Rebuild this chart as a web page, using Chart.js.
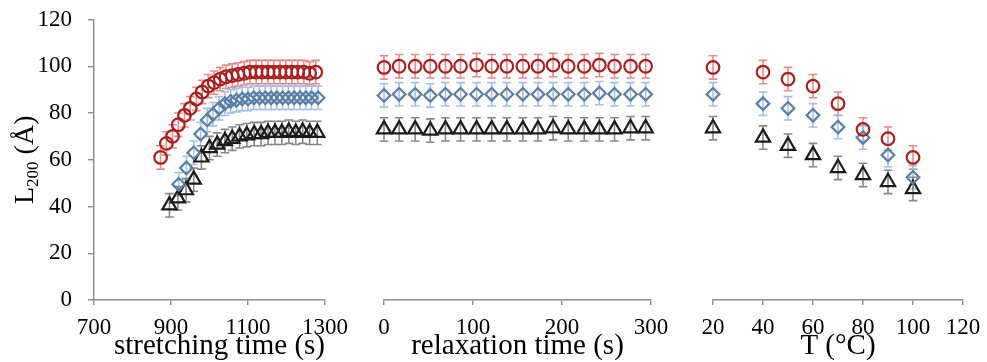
<!DOCTYPE html>
<html>
<head>
<meta charset="utf-8">
<script src="https://cdn.jsdelivr.net/npm/chart.js@4.4.1/dist/chart.umd.min.js"></script>
<style>
  html, body { margin: 0; padding: 0; background: #ffffff; }
  #wrap { position: relative; width: 987px; height: 362px; }
  #wrap canvas { position: absolute; left: 0; top: 0; }
</style>
</head>
<body>
<div id="wrap">
  <canvas id="c1" width="987" height="362"></canvas>
  <canvas id="c2" width="987" height="362"></canvas>
  <canvas id="c3" width="987" height="362"></canvas>
</div>
<script>
// ---- stretching stage ----
const stretchTimeA = [873, 888, 904, 919, 935, 950, 966, 981, 997, 1012, 1028, 1043, 1059, 1074, 1090, 1105, 1121, 1136, 1152, 1167, 1183, 1198, 1214, 1229, 1245, 1260, 1276];
const stretchA     = [61, 67, 70, 75, 79, 82, 86, 89, 91.5, 93, 94.5, 95.5, 96, 96.5, 97, 97.5, 97.5, 97.5, 97.5, 97.5, 97.5, 97.5, 97.5, 97.5, 97.5, 97, 97.5];
const stretchTimeB = [920, 940, 959, 977, 994, 1009, 1025, 1040, 1055, 1070, 1085, 1100, 1115, 1130, 1145, 1160, 1175, 1190, 1205, 1220, 1235, 1250, 1265, 1282];
const stretchB     = [49.5, 56.5, 63, 71, 77, 79.5, 82, 84, 85, 85.5, 86, 86, 86.5, 86.5, 86.5, 86.5, 86.5, 86.5, 86.5, 86.5, 86.5, 86.5, 86.5, 86.5];
const stretchTimeC = [896, 918, 939, 959, 979, 1000, 1020, 1040, 1059, 1078, 1097, 1116, 1134, 1152, 1170, 1188, 1206, 1224, 1242, 1260, 1280];
const stretchC     = [40.5, 43.5, 47, 51.5, 61, 65, 66.5, 68, 69, 70, 70.5, 71, 71, 71.5, 71.5, 71.5, 72, 71.5, 72, 71.5, 71.5];

// ---- relaxation stage ----
const relaxTime = [0, 17, 35, 52, 69, 86, 104, 121, 138, 156, 173, 190, 207, 225, 242, 259, 277, 294];
const relaxA = [99.5, 100, 100, 100, 100, 100, 100.5, 100, 100, 100, 100, 100.5, 100, 100, 100.5, 100, 100, 100];
const relaxB = [87.5, 88, 88, 87.5, 88, 88, 88, 88, 88, 88, 88, 88, 88, 88, 88.5, 88, 88, 88];
const relaxC = [73, 73, 73, 72.5, 73, 73, 73, 73, 73, 73, 73, 73.5, 73, 73, 73, 73, 73.5, 73.5];

// ---- heating stage ----
const temps = [20, 40, 50, 60, 70, 80, 90, 100];
const heatA = [99.5, 97.5, 94.5, 91.5, 84, 73, 69, 61];
const heatB = [88, 84, 82, 79, 74, 69.5, 62, 52.5];
const heatC = [73.5, 69.5, 66, 62, 56.5, 53.5, 50.5, 47.5];

// error bar half-length (Å)
const errA = 5, errB = 5, errC = 5;

// tick labels
const yTicks = [0, 20, 40, 60, 80, 100, 120];
const xTicksStretch = [700, 900, 1100, 1300];
const xTicksRelax = [0, 100, 200, 300];
const xTicksTemp = [20, 40, 60, 80, 100, 120];

const SERIF = '"Liberation Serif", "Times New Roman", "DejaVu Serif", serif';
const AXIS_GRAY = '#8c8c8c';

const styleA = { pointStyle: 'circle',   pointRadius: 6.3, pointBorderColor: '#a8201f', errorColor: 'rgba(228,128,128,0.9)', errorBar: errA };
const styleB = { pointStyle: 'rectRot',  pointRadius: 6.3, pointBorderColor: '#5a7ea8', errorColor: 'rgba(160,190,226,0.95)', errorBar: errB };
const styleC = { pointStyle: 'triangle', pointRadius: 8.2, pointBorderColor: '#1b1b1b', errorColor: 'rgba(130,130,130,0.95)', errorBar: errC };

function series(xs, ys, style) {
  return Object.assign({
    data: xs.map((v, i) => ({ x: v, y: ys[i] })),
    showLine: false,
    pointBackgroundColor: 'rgba(0,0,0,0)',
    pointBorderWidth: 2.2,
    pointHoverRadius: 6,
    clip: false
  }, style);
}

// vertical error bars drawn beneath the hollow markers
const errorBars = {
  id: 'errorBars',
  beforeDatasetsDraw(chart) {
    const { ctx, scales: { x, y } } = chart;
    ctx.save();
    ctx.lineWidth = 1.6;
    chart.data.datasets.forEach(ds => {
      ctx.strokeStyle = ds.errorColor;
      ds.data.forEach(p => {
        const px = x.getPixelForValue(p.x);
        const top = y.getPixelForValue(p.y + ds.errorBar);
        const bot = y.getPixelForValue(p.y - ds.errorBar);
        ctx.beginPath();
        ctx.moveTo(px, top); ctx.lineTo(px, bot);
        ctx.moveTo(px - 4.3, top); ctx.lineTo(px + 4.3, top);
        ctx.moveTo(px - 4.3, bot); ctx.lineTo(px + 4.3, bot);
        ctx.stroke();
      });
    });
    ctx.restore();
  }
};

// rotated y-axis title with a subscript: L200 (Å)
const yTitle = {
  id: 'yTitle',
  afterDraw(chart) {
    const { ctx, chartArea } = chart;
    const main = '28px ' + SERIF, sub = '17px ' + SERIF;
    const parts = [['L', main, 0], ['200', sub, 5], [' (Å)', main, 0]];
    ctx.save();
    let total = 0;
    parts.forEach(p => { ctx.font = p[1]; total += ctx.measureText(p[0]).width; });
    ctx.translate(33, (chartArea.top + chartArea.bottom) / 2);
    ctx.rotate(-Math.PI / 2);
    ctx.fillStyle = '#000';
    ctx.textBaseline = 'alphabetic';
    ctx.textAlign = 'left';
    let cx = -total / 2;
    parts.forEach(p => {
      ctx.font = p[1];
      ctx.fillText(p[0], cx, p[2]);
      cx += ctx.measureText(p[0]).width;
    });
    ctx.restore();
  }
};

function xScale(min, max, ticks, title, align) {
  return {
    type: 'linear',
    min: min, max: max,
    afterBuildTicks: s => { s.ticks = ticks.map(v => ({ value: v })); },
    afterFit: s => { s.height = 62; s.paddingLeft = 0; s.paddingRight = 0; },
    border: { display: true, color: AXIS_GRAY, width: 1.4 },
    grid: { drawOnChartArea: false, drawTicks: true, tickLength: 5, color: AXIS_GRAY, lineWidth: 1.4 },
    ticks: { color: '#000', font: { family: SERIF, size: 23 }, padding: 9, maxRotation: 0, autoSkip: false,
             callback: v => String(v) },
    title: { display: true, text: title, color: '#000', align: align || 'center',
             font: { family: SERIF, size: 29, lineHeight: 1.1 }, padding: { top: 0, bottom: 0 } }
  };
}

function yScale(show) {
  return {
    type: 'linear',
    min: 0, max: 120,
    display: show,
    afterBuildTicks: s => { s.ticks = yTicks.map(v => ({ value: v })); },
    afterFit: s => {
      if (show) { s.width = 94; }
      s.paddingTop = 0; s.paddingBottom = 0;
    },
    border: { display: true, color: AXIS_GRAY, width: 1.4 },
    grid: { drawOnChartArea: false, drawTicks: true, tickLength: 6, color: AXIS_GRAY, lineWidth: 1.4 },
    ticks: { color: '#000', font: { family: SERIF, size: 23 }, padding: 16, callback: v => String(v) }
  };
}

function makeChart(id, datasets, x, y, padding, plugins) {
  return new Chart(document.getElementById(id), {
    type: 'scatter',
    data: { datasets: datasets },
    options: {
      responsive: false,
      animation: false,
      devicePixelRatio: 1,
      layout: { padding: padding },
      plugins: { legend: { display: false }, tooltip: { enabled: false } },
      scales: { x: x, y: y }
    },
    plugins: [errorBars].concat(plugins || [])
  });
}

makeChart('c1',
  [series(stretchTimeA, stretchA, styleA), series(stretchTimeB, stretchB, styleB), series(stretchTimeC, stretchC, styleC)],
  xScale(700, 1300, xTicksStretch, 'stretching time (s)', 'end'),
  yScale(true),
  { left: 0, right: 662, top: 19.5, bottom: 0 },
  [yTitle]);

makeChart('c2',
  [series(relaxTime, relaxA, styleA), series(relaxTime, relaxB, styleB), series(relaxTime, relaxC, styleC)],
  xScale(0, 300, xTicksRelax, 'relaxation time (s)'),
  yScale(false),
  { left: 384, right: 336, top: 19.5, bottom: 0 });

makeChart('c3',
  [series(temps, heatA, styleA), series(temps, heatB, styleB), series(temps, heatC, styleC)],
  xScale(20, 120, xTicksTemp, 'T (°C)'),
  yScale(false),
  { left: 713, right: 24, top: 19.5, bottom: 0 });
</script>
</body>
</html>
